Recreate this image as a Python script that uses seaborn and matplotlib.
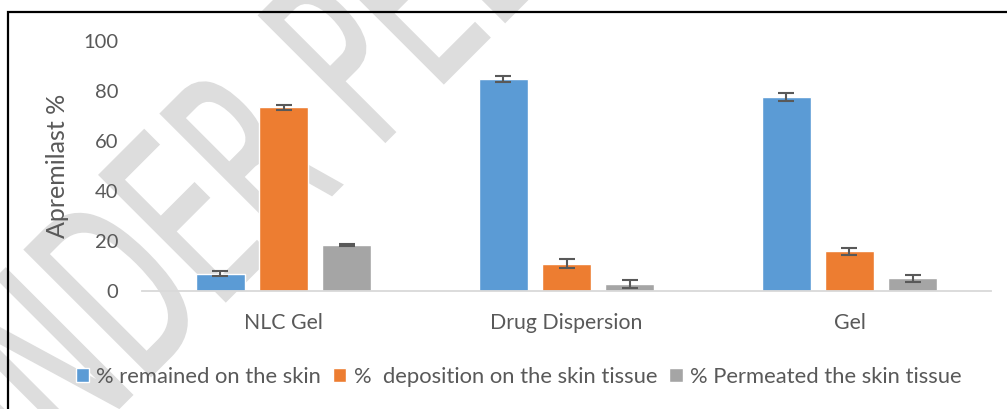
import pandas as pd
import matplotlib
matplotlib.use("Agg")
import matplotlib.pyplot as plt
from matplotlib.patches import Rectangle, PathPatch
from matplotlib.textpath import TextPath
from matplotlib.font_manager import FontProperties
from matplotlib.transforms import Affine2D
import seaborn as sns

# --- data ---
categories = ["NLC Gel", "Drug Dispersion", "Gel"]
series = ["% remained on the skin", "%  deposition on the skin tissue", "% Permeated the skin tissue"]
remained = [7.0, 84.8, 77.7]
remained_err = [1.1, 1.3, 1.5]
deposition = [73.5, 10.9, 15.9]
deposition_err = [0.9, 1.8, 1.5]
permeated = [18.5, 2.9, 5.1]
permeated_err = [0.3, 1.6, 1.3]
colors = ["#5B9BD5", "#ED7D31", "#A5A5A5"]
watermark = "UNDER PEER REVIEW"

df = pd.DataFrame({
    "formulation": categories * 3,
    "series": [s for s in series for _ in categories],
    "value": remained + deposition + permeated,
})
errors = [remained_err, deposition_err, permeated_err]

sns.set_theme(style="white")
plt.rcParams['font.family'] = ['Lato', 'DejaVu Sans']
text_col = "#595959"

fig = plt.figure(figsize=(10.07, 4.09), dpi=100)
fig.patch.set_facecolor("white")

# faint review watermark behind everything (condensed, rotated 45 deg, pixel coords)
tp = TextPath((0, 0), watermark, size=1, prop=FontProperties(family="DejaVu Sans"))
em = 245
wm_tf = Affine2D().scale(0.56 * em, em).rotate_deg(45).translate(-2, -120)
wm = PathPatch(tp, transform=wm_tf, facecolor="#dddddd", edgecolor="#dddddd",
               lw=1.5, zorder=-5)
fig.add_artist(wm)

# outer chart frame (left and top edges visible)
fig.add_artist(Rectangle((8 / 1007, -0.1), 1.1, 1.1 - 12 / 409, transform=fig.transFigure,
                         fill=False, edgecolor="black", lw=1.6, zorder=10))

ax = fig.add_axes([142 / 1007, 1 - 291 / 409, (991 - 142) / 1007, 250 / 409])
ax.set_facecolor("none")

sns.barplot(data=df, x="formulation", y="value", hue="series", order=categories,
            hue_order=series, palette=colors, width=0.668, gap=0.22,
            errorbar=None, saturation=1, ax=ax, legend=True, zorder=2)

for cont, err in zip(ax.containers, errors):
    xs = [b.get_x() + b.get_width() / 2 for b in cont]
    ys = [b.get_height() for b in cont]
    ax.errorbar(xs, ys, yerr=err, fmt="none", ecolor="#595959", elinewidth=1.5,
                capsize=6, capthick=1.5, zorder=3)

ax.set_ylim(0, 100)
ax.set_yticks(range(0, 101, 20))
ax.set_xlim(-0.5, 2.5)
ax.set_xlabel("")
ax.set_ylabel("Apremilast %", fontsize=18, color=text_col)
ax.yaxis.set_label_coords(-0.086, 0.5)
ax.tick_params(axis="y", length=0, pad=17, labelsize=14.5, labelcolor=text_col)
ax.tick_params(axis="x", length=0, pad=16, labelsize=15.3, labelcolor=text_col)

sns.despine(ax=ax, left=True, top=True, right=True)
ax.spines["bottom"].set_color("#d9d9d9")
ax.spines["bottom"].set_linewidth(1.3)

handles, labels = ax.get_legend_handles_labels()
ax.get_legend().remove()
fig.legend(handles, labels, loc="center", bbox_to_anchor=(0.515, 1 - 377 / 409), ncol=3,
           frameon=False, fontsize=15.8, labelcolor=text_col, handlelength=0.6,
           handleheight=0.6, handletextpad=0.33, columnspacing=0.56)

fig.savefig("out.png", dpi=100, facecolor="white")
